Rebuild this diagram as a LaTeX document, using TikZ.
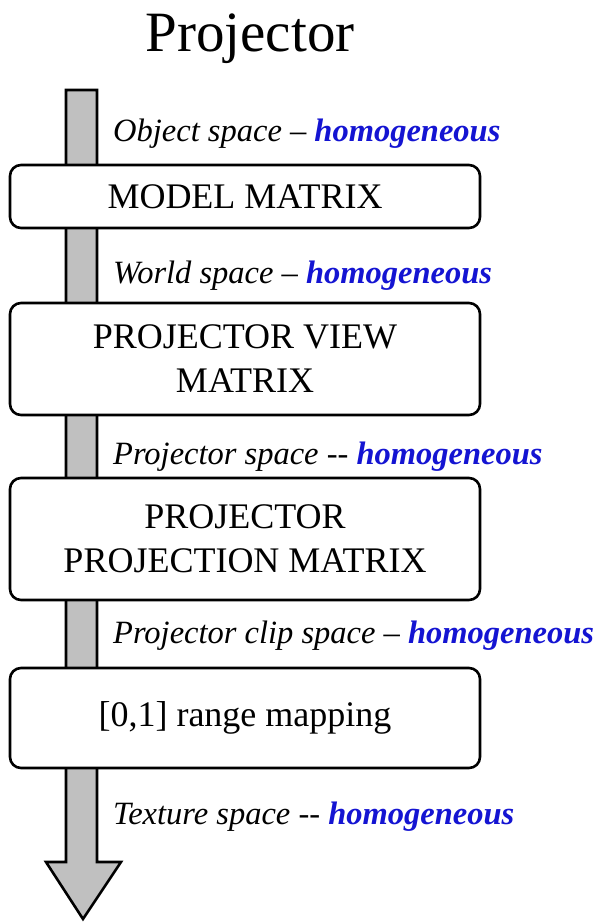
\documentclass[tikz,border=0pt]{standalone}
\usepackage{fontspec}
\setmainfont{Liberation Serif}
\definecolor{homblue}{RGB}{20,20,210}
\definecolor{shaftgray}{RGB}{192,192,192}
\begin{document}
\begin{tikzpicture}[x=1pt,y=-1pt,
  stagebox/.style={draw=black, line width=2.6pt, fill=white, rounded corners=11pt,
    minimum width=470pt, inner sep=0pt, align=center,
    font=\fontsize{36}{44}\selectfont},
  spacelabel/.style={anchor=base west, inner sep=0pt, font=\fontsize{32.5}{38}\selectfont\itshape}]
\useasboundingbox (0,0) rectangle (598,923);
% arrow
\draw[line width=2.6pt, fill=shaftgray, line join=miter]
  (66,90) -- (97,90) -- (97,862) -- (121,862) -- (83,919) -- (46,862) -- (66,862) -- cycle;
% title
\node[anchor=base, inner sep=0pt, font=\fontsize{57}{60}\selectfont] (title) at (250,52) {Projector};
% boxes
\node[stagebox, minimum height=63pt] (model) at (245,196.5) {MODEL MATRIX};
\node[stagebox, minimum height=112pt] (view) at (245,359) {PROJECTOR VIEW\\MATRIX};
\node[stagebox, minimum height=122pt] (proj) at (245,539) {PROJECTOR\\PROJECTION MATRIX};
\node[stagebox, minimum height=100pt] (range) at (245,718) {[0,1] range mapping};
% labels
\node[spacelabel] (l1) at (113,141) {Object space \textendash{} \textcolor{homblue}{\bfseries homogeneous}};
\node[spacelabel] (l2) at (113,283) {World space \textendash{} \textcolor{homblue}{\bfseries homogeneous}};
\node[spacelabel] (l3) at (113,464) {Projector space -{}- \textcolor{homblue}{\bfseries homogeneous}};
\node[spacelabel] (l4) at (113,643) {Projector clip space \textendash{} \textcolor{homblue}{\bfseries homogeneous}};
\node[spacelabel] (l5) at (113,824) {Texture space -{}- \textcolor{homblue}{\bfseries homogeneous}};
\end{tikzpicture}
\end{document}
